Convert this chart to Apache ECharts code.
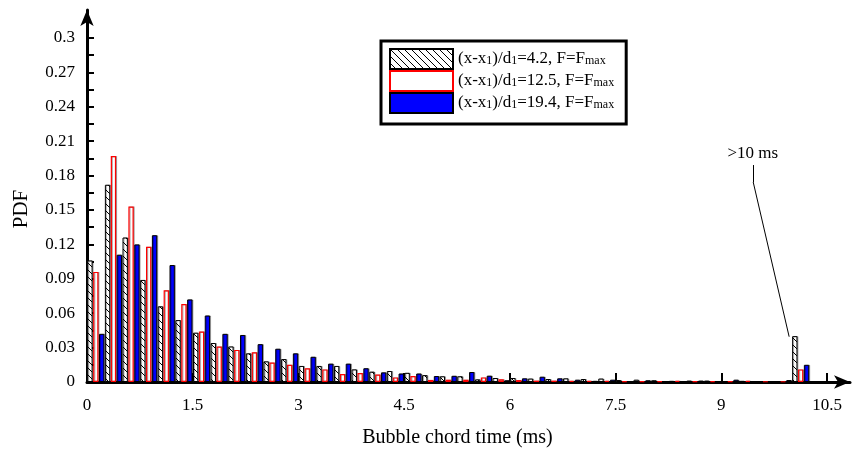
<!DOCTYPE html>
<html>
<head>
<meta charset="utf-8">
<script src="https://cdn.jsdelivr.net/npm/echarts@6/dist/echarts.min.js"></script>
<style>html,body{margin:0;padding:0;background:#fff}#c{width:854px;height:449px}</style>
</head>
<body>
<div id="c"></div>
<script>
// ---- data (bins of 0.25 ms; last bin = ">10 ms") ----
var binWidth = 0.25;
var seriesNames = ['x/d1=4.2', 'x/d1=12.5', 'x/d1=19.4'];
var legendLabels = [
  '(x-x{s|1})/d{s|1}=4.2, F=F{s|max}',
  '(x-x{s|1})/d{s|1}=12.5, F=F{s|max}',
  '(x-x{s|1})/d{s|1}=19.4, F=F{s|max}'
];
var pdf42 = [0.106,0.172,0.126,0.089,0.066,0.054,0.043,0.034,0.031,0.025,0.018,0.020,0.014,0.014,0.014,0.011,0.009,0.0096,0.008,0.006,0.005,0.005,0.0023,0.0035,0.0035,0.003,0.0026,0.0032,0.0026,0.003,0.0017,0.002,0.0015,0.001,0.0012,0.0012,0.0008,0.001,0.0008,0.0008,0.040];
var pdf125 = [0.096,0.197,0.153,0.118,0.080,0.068,0.044,0.031,0.028,0.026,0.017,0.015,0.012,0.011,0.007,0.0078,0.0065,0.004,0.0052,0.0018,0.002,0.002,0.004,0.0023,0.0017,0.0012,0.0012,0.001,0.001,0.001,0.0006,0.0006,0.0006,0.001,0.0005,0.0008,0.0005,0.001,0.0004,0.0004,0.011];
var pdf194 = [0.042,0.111,0.120,0.128,0.102,0.072,0.058,0.042,0.041,0.033,0.029,0.025,0.022,0.016,0.016,0.012,0.0084,0.0074,0.0074,0.0052,0.0054,0.0087,0.0055,0.0015,0.0032,0.0046,0.0032,0.002,0.001,0.002,0.0008,0.0015,0.0008,0.0008,0.0012,0.0006,0.002,0.0006,0.0004,0.0017,0.015];
var xTickLabels = [0, 1.5, 3, 4.5, 6, 7.5, 9, 10.5];
var yTickLabels = [0, 0.03, 0.06, 0.09, 0.12, 0.15, 0.18, 0.21, 0.24, 0.27, 0.3];
var yTicks = [0,0.015,0.03,0.045,0.06,0.075,0.09,0.105,0.12,0.135,0.15,0.165,0.18,0.195,0.21,0.225,0.24,0.255,0.27,0.285,0.3];
var annotText = '>10 ms';

function toPairs(arr){ return arr.map(function(v,i){ return [i*binWidth + binWidth/2, v]; }); }

// hatch pattern
var pc = document.createElement('canvas');
pc.width = 7; pc.height = 7;
var g = pc.getContext('2d');
g.fillStyle = '#fff'; g.fillRect(0,0,7,7);
g.strokeStyle = '#000'; g.lineWidth = 1;
g.beginPath(); g.moveTo(-1,-1); g.lineTo(8,8); g.stroke();
g.beginPath(); g.moveTo(-1,6); g.lineTo(1,8); g.stroke();
g.beginPath(); g.moveTo(6,-1); g.lineTo(8,1); g.stroke();
var hatch = {image: pc, repeat: 'repeat'};

var FONT = 'Liberation Serif';
var chart = echarts.init(document.getElementById('c'), null, {renderer:'canvas'});
var shadow = {shadowColor:'rgba(0,0,0,0.3)', shadowOffsetX:1, shadowOffsetY:0, shadowBlur:0};

chart.setOption({
  animation: false,
  grid: {left: 87, right: 4, top: 10, bottom: 67, containLabel: false, outerBoundsMode: 'none'},
  legend: {
    orient: 'vertical', left: 381, top: 41,
    icon: 'rect',
    itemWidth: 63, itemHeight: 20, itemGap: 0,
    padding: [7, 12, 10, 8],
    borderColor: '#000', borderWidth: 3,
    data: seriesNames,
    formatter: function(n){ return legendLabels[seriesNames.indexOf(n)]; },
    textStyle: {fontFamily: FONT, fontSize: 17, color:'#000', lineHeight: 16,
      rich: {s: {fontFamily: FONT, fontSize: 12, color:'#000', lineHeight: 6, verticalAlign:'bottom'}}}
  },
  xAxis: {
    type: 'value', min: 0, max: 10.825,
    name: 'Bubble chord time (ms)', nameLocation: 'middle', nameGap: 46,
    nameTextStyle: {fontFamily: FONT, fontSize: 20, color:'#000', padding:[0,22,0,0]},
    axisLine: {lineStyle:{color:'#000', width:3}, symbol:['none','arrow'], symbolSize:[10,16]},
    axisTick: {inside:true, length:9, lineStyle:{color:'#000', width:2}, customValues: xTickLabels},
    axisLabel: {fontFamily: FONT, fontSize: 17, color:'#000', margin: 15, customValues: xTickLabels},
    splitLine: {show:false}
  },
  yAxis: {
    type: 'value', min: 0, max: 0.3244,
    name: 'PDF', nameLocation: 'middle', nameGap: 55,
    nameTextStyle: {fontFamily: FONT, fontSize: 21, color:'#000', padding:[0,26,0,0]},
    axisLine: {lineStyle:{color:'#000', width:3}, symbol:['none','arrow'], symbolSize:[10,16]},
    axisTick: {inside:true, length:7, lineStyle:{color:'#000', width:2}, customValues: yTicks},
    axisLabel: {fontFamily: FONT, fontSize: 17, color:'#000', margin: 12, customValues: yTickLabels},
    splitLine: {show:false}
  },
  series: [
    {name: seriesNames[0], type:'bar', data: toPairs(pdf42), barGap:'10%', barCategoryGap:'3%',
     itemStyle: Object.assign({color: hatch, borderColor:'#000', borderWidth:1}, shadow),
     markLine: {silent:true, symbol:['none','none'], label:{show:false},
       lineStyle:{color:'#000', width:1, type:'solid'},
       data: [[{coord:[10.045, 0.0395]}, {coord:[9.535, 0.1744]}],
              [{coord:[9.535, 0.1744]}, {coord:[9.535, 0.1892]}]]},
     markPoint: {silent:true, symbol:'circle', symbolSize:0,
       label:{show:true, formatter: annotText, fontFamily: FONT, fontSize:17, color:'#000', position:'inside'},
       data: [{coord:[9.53, 0.199]}]}
    },
    {name: seriesNames[1], type:'bar', data: toPairs(pdf125), barGap:'10%', barCategoryGap:'3%',
     itemStyle: Object.assign({color:'#fff', borderColor:'#ff0000', borderWidth:1.2}, shadow)},
    {name: seriesNames[2], type:'bar', data: toPairs(pdf194), barGap:'10%', barCategoryGap:'3%',
     itemStyle: Object.assign({color:'#0000ff', borderColor:'#000', borderWidth:1}, shadow)}
  ]
});
</script>
</body>
</html>
